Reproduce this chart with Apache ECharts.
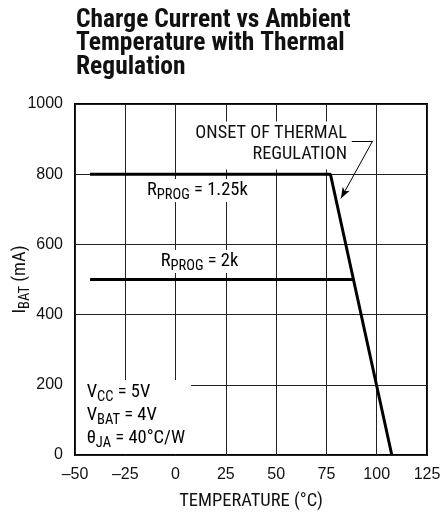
<!DOCTYPE html>
<html><head><meta charset="utf-8">
<script src="https://cdn.jsdelivr.net/npm/echarts@6/dist/echarts.min.js"></script>
<style>html,body{margin:0;padding:0;background:#fff}#c{width:441px;height:514px}</style>
</head><body><div id="c"></div>
<script>
// ---- data ----
const titleLines = ['Charge Current vs Ambient', 'Temperature with Thermal', 'Regulation'];
const xTicks = [-50, -25, 0, 25, 50, 75, 100, 125];
const yTicks = [0, 200, 400, 600, 800, 1000];
const r125Temp = [-42.5, 77, 107.5];
const r125Cur  = [800, 800, 0];
const r2Temp   = [-42.5, 88.5];
const r2Cur    = [500, 500];
const arrowTemp = [87.6, 98.0, 82.2];
const arrowCur  = [895, 895, 731];

const NARROW = "'Liberation Sans Narrow','Arial Narrow','Roboto Condensed',sans-serif";
const REG = "'Liberation Sans',Arial,sans-serif";
const INK = '#111';

const zip = (a, b) => a.map((v, i) => [v, b[i]]);

const chart = echarts.init(document.getElementById('c'), null, {renderer: 'canvas'});

const subRich = {
  m: {fontFamily: NARROW, fontSize: 18.5, lineHeight: 23, color: INK},
  s: {fontFamily: NARROW, fontSize: 14.5, lineHeight: 13, padding: [10, 0, 0, 0], color: INK}
};

chart.setOption({
  animation: false,
  backgroundColor: '#fff',
  title: {
    text: titleLines.join('\n'),
    left: 76, top: 8.5, padding: 0,
    textStyle: {fontFamily: NARROW, fontWeight: 'bold', fontSize: 25.5, lineHeight: 23.5, color: INK}
  },
  grid: {left: 75, right: 14, top: 104, bottom: 59, containLabel: false, outerBoundsMode: 'none',
         show: true, borderColor: '#000', borderWidth: 2, backgroundColor: 'transparent'},
  xAxis: {
    type: 'value', min: xTicks[0], max: xTicks[xTicks.length - 1], interval: 25,
    axisLine: {show: false}, axisTick: {show: false},
    splitLine: {show: true, lineStyle: {color: '#222', width: 1}},
    axisLabel: {margin: 12, fontFamily: REG, fontSize: 16, color: INK,
      formatter: v => (v < 0 ? '\u2013' + Math.abs(v) : String(v))},
    name: 'TEMPERATURE (\u00b0C)', nameLocation: 'middle', nameGap: 36, nameMoveOverlap: false,
    nameTextStyle: {fontFamily: NARROW, fontSize: 18.5, lineHeight: 20, color: INK}
  },
  yAxis: {
    type: 'value', min: yTicks[0], max: yTicks[yTicks.length - 1], interval: 200,
    axisLine: {show: false}, axisTick: {show: false},
    splitLine: {show: true, lineStyle: {color: '#222', width: 1}},
    axisLabel: {margin: 12, fontFamily: REG, fontSize: 16, color: INK, formatter: v => String(v)},
    name: '{m|I}{s|BAT}{m| (mA)}', nameLocation: 'middle', nameGap: 44, nameMoveOverlap: false,
    nameTextStyle: {rich: {
      m: {fontFamily: NARROW, fontSize: 18.5, lineHeight: 22, color: INK},
      s: {fontFamily: NARROW, fontSize: 14.5, lineHeight: 12, padding: [10, 0, 0, 0], color: INK}
    }}
  },
  series: [
    {type: 'line', data: zip(r125Temp, r125Cur), symbol: 'none', silent: true, z: 5,
     lineStyle: {color: '#000', width: 3}},
    {type: 'line', data: zip(r2Temp, r2Cur), symbol: 'none', silent: true, z: 5,
     lineStyle: {color: '#000', width: 3}},
    {type: 'line', data: [], silent: true, z: 6,
     markLine: {
       silent: true, animation: false, label: {show: false},
       lineStyle: {color: '#000', width: 1, type: 'solid'},
       data: [
         [{coord: [arrowTemp[0], arrowCur[0]], symbol: 'none'}, {coord: [arrowTemp[1], arrowCur[1]], symbol: 'none'}],
         [{coord: [arrowTemp[1], arrowCur[1]], symbol: 'none'}, {coord: [arrowTemp[2], arrowCur[2]], symbol: 'arrow', symbolSize: [6, 11]}]
       ]
     }}
  ]
});

// annotations anchored by data coordinates
const P = (t, c) => chart.convertToPixel({gridIndex: 0}, [t, c]);
const onset = P(86.7, 950);
const r125 = P(-15.7, 753.3);
const r2 = P(-8.9, 551.3);
const vtxt = P(-44.2, 211.4);
const boxTL = P(-50, 213.7);
const boxBR = P(7.7, 0);

chart.setOption({
  graphic: [
    {type: 'rect', z: 50, silent: true,
     shape: {x: boxTL[0] + 1, y: boxTL[1], width: boxBR[0] - boxTL[0] - 1, height: boxBR[1] - boxTL[1] - 1},
     style: {fill: '#fff'}},
    {type: 'text', z: 51, silent: true, x: vtxt[0], y: vtxt[1],
     style: {text: '{m|V}{s|CC}{m| = 5V}\n{m|V}{s|BAT}{m| = 4V}\n{m|\u03b8}{s|JA}{m| = 40\u00b0C/W}',
       rich: subRich, align: 'left', verticalAlign: 'top'}},
    {type: 'text', z: 51, silent: true, x: onset[0], y: onset[1],
     style: {text: 'ONSET OF THERMAL\nREGULATION', fontFamily: NARROW, fontSize: 18.3, lineHeight: 21.5,
       fill: INK, align: 'right', verticalAlign: 'top', backgroundColor: '#fff', padding: [1, 3, 4, 3]}},
    {type: 'text', z: 51, silent: true, x: r125[0], y: r125[1],
     style: {text: '{m|R}{s|PROG}{m| = 1.25k}', rich: subRich, align: 'left', verticalAlign: 'middle',
       backgroundColor: '#fff', padding: [0, 3, 0, 3]}},
    {type: 'text', z: 51, silent: true, x: r2[0], y: r2[1],
     style: {text: '{m|R}{s|PROG}{m| = 2k}', rich: subRich, align: 'left', verticalAlign: 'middle',
       backgroundColor: '#fff', padding: [0, 3, 0, 3]}}
  ]
});
</script>
</body></html>
